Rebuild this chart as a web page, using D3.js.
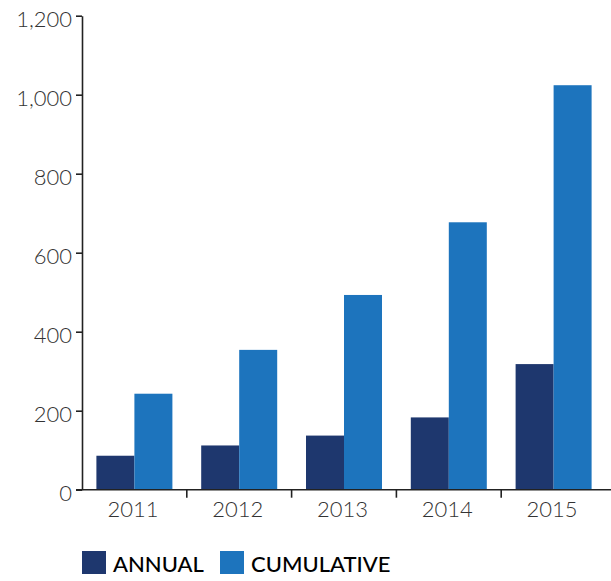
<!DOCTYPE html>
<html>
<head>
<meta charset="utf-8">
<script src="https://cdn.jsdelivr.net/npm/d3@7"></script>
<style>
  html, body { margin: 0; padding: 0; background: #fff; }
  svg { display: block; }
</style>
</head>
<body>
<svg id="chart" width="611" height="581"></svg>
<script>
// Yearly installations: annual additions and running total
const years = ["2011", "2012", "2013", "2014", "2015"];
const annual = [86, 112, 137, 183, 318];
const cumulative = [243, 354, 493, 677, 1024];
const yTicks = [0, 200, 400, 600, 800, 1000, 1200];
const seriesNames = ["ANNUAL", "CUMULATIVE"];
const seriesColors = ["#1e376e", "#1d74bd"];

const svg = d3.select("#chart");
const fontLabel = "Lato, 'Open Sans', sans-serif";

const x = d3.scaleBand().domain(years).range([82, 606]).paddingInner(0).paddingOuter(0);
const barW = 38;
const y = d3.scaleLinear().domain([0, 1200]).range([489.7, 15.7]);

const rows = years.map((yr, i) => ({ year: yr, values: [annual[i], cumulative[i]] }));

// bars
const groups = svg.append("g").selectAll("g").data(rows).join("g")
  .attr("transform", d => `translate(${x(d.year) + x.bandwidth() / 2 - barW},0)`);
groups.selectAll("rect").data(d => d.values).join("rect")
  .attr("x", (v, j) => j * barW)
  .attr("y", v => y(v))
  .attr("width", barW)
  .attr("height", v => y(0) - y(v))
  .attr("fill", (v, j) => seriesColors[j]);

// y axis
const yAxis = svg.append("g").attr("transform", "translate(82,0)")
  .call(d3.axisLeft(y).tickValues(yTicks).tickFormat(d3.format(",")).tickSize(6).tickSizeOuter(0).tickPadding(4));
yAxis.select(".domain").attr("stroke", "#222").attr("stroke-width", 1.6);
yAxis.selectAll(".tick line").attr("stroke", "#222").attr("stroke-width", 1.6);
yAxis.selectAll(".tick text")
  .attr("font-family", fontLabel).attr("font-weight", 300)
  .attr("font-size", 22).attr("fill", "#333").attr("dy", "0.5em");

// x axis
const xAxis = svg.append("g");
xAxis.append("line")
  .attr("x1", 76).attr("x2", 611).attr("y1", y(0)).attr("y2", y(0))
  .attr("stroke", "#222").attr("stroke-width", 1.6);
xAxis.selectAll("line.sep").data(years.slice(1)).join("line")
  .attr("class", "sep")
  .attr("x1", d => x(d)).attr("x2", d => x(d))
  .attr("y1", y(0)).attr("y2", y(0) + 8)
  .attr("stroke", "#222").attr("stroke-width", 1.6);
xAxis.selectAll("text").data(years).join("text")
  .attr("x", d => x(d) + x.bandwidth() / 2 - 1.5)
  .attr("y", 517)
  .attr("text-anchor", "middle")
  .attr("font-family", fontLabel).attr("font-weight", 300)
  .attr("font-size", 22).attr("fill", "#333")
  .text(d => d);

// legend
const legendX = [82, 220];
const legend = svg.append("g").selectAll("g").data(seriesNames).join("g")
  .attr("transform", (d, i) => `translate(${legendX[i]},551)`);
legend.append("rect").attr("width", 24).attr("height", 23)
  .attr("fill", (d, i) => seriesColors[i]);
legend.append("text")
  .attr("x", 31).attr("y", 21)
  .attr("font-family", fontLabel).attr("font-weight", 500)
  .attr("font-size", 22).attr("fill", "#000")
  .text(d => d);
</script>
</body>
</html>
